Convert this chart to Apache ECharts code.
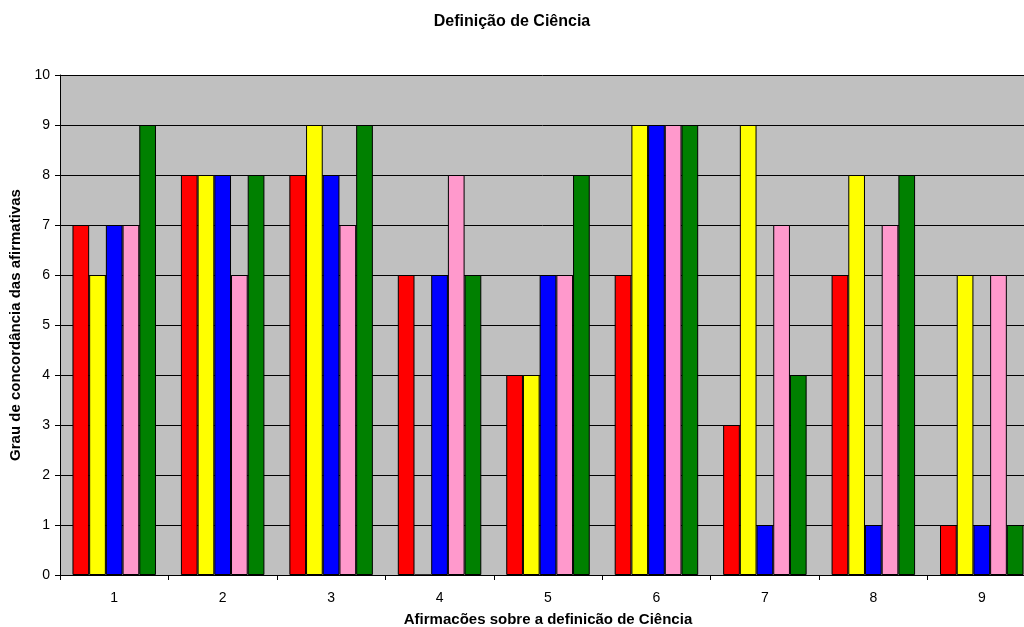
<!DOCTYPE html>
<html>
<head>
<meta charset="utf-8">
<script src="https://cdn.jsdelivr.net/npm/echarts@6/dist/echarts.min.js"></script>
<style>
  html, body { margin: 0; padding: 0; background: #ffffff; }
  #chart { width: 1024px; height: 627px; }
</style>
</head>
<body>
<div id="chart"></div>
<script>
// Statements about the definition of science (x axis)
const categories = ['1', '2', '3', '4', '5', '6', '7', '8', '9'];

// Agreement level given by each respondent group
const serieVermelha = [7, 8, 8, 6, 4, 6, 3, 6, 1];
const serieAmarela  = [6, 8, 9, 0, 4, 9, 9, 8, 6];
const serieAzul     = [7, 8, 8, 6, 6, 9, 1, 1, 1];
const serieRosa     = [7, 6, 7, 8, 6, 9, 7, 7, 6];
const serieVerde    = [9, 8, 9, 6, 8, 9, 4, 8, 1];

const seriesDefs = [
  { name: 'Série 1', data: serieVermelha, color: '#FF0000' },
  { name: 'Série 2', data: serieAmarela,  color: '#FFFF00' },
  { name: 'Série 3', data: serieAzul,     color: '#0000FF' },
  { name: 'Série 4', data: serieRosa,     color: '#FF99CC' },
  { name: 'Série 5', data: serieVerde,    color: '#008000' }
];

const font = 'Liberation Sans, Arial, sans-serif';
const chart = echarts.init(document.getElementById('chart'), null, { renderer: 'canvas' });

chart.setOption({
  animation: false,
  backgroundColor: '#ffffff',
  title: {
    text: 'Definição de Ciência',
    left: 'center',
    top: 9,
    textStyle: { fontFamily: font, fontSize: 16, fontWeight: 'bold', color: '#000' }
  },
  grid: {
    left: 60,
    top: 75,
    bottom: 52,
    right: -12,
    outerBoundsMode: 'none',
    containLabel: false,
    show: true,
    backgroundColor: '#C0C0C0',
    borderWidth: 0
  },
  xAxis: {
    type: 'category',
    data: categories,
    boundaryGap: true,
    name: 'Afirmacões sobre a definicão de Ciência',
    nameLocation: 'middle',
    nameGap: 37,
    nameTextStyle: { fontFamily: font, fontSize: 15, fontWeight: 'bold', color: '#000' },
    axisLine: { show: true, lineStyle: { color: '#000', width: 1 } },
    axisTick: { show: true, length: 5, lineStyle: { color: '#000' } },
    axisLabel: { fontFamily: font, fontSize: 14, color: '#000', margin: 16 },
    splitLine: { show: false }
  },
  yAxis: {
    type: 'value',
    min: 0,
    max: 10,
    interval: 1,
    name: 'Grau de concordância das afirmativas',
    nameLocation: 'middle',
    nameRotate: 90,
    nameGap: 36,
    nameTextStyle: { fontFamily: font, fontSize: 15, fontWeight: 'bold', color: '#000' },
    axisLine: { show: true, lineStyle: { color: '#000', width: 1 } },
    axisTick: { show: true, length: 5, inside: false, lineStyle: { color: '#000' } },
    axisLabel: { fontFamily: font, fontSize: 14, color: '#000', margin: 10 },
    splitLine: { show: true, lineStyle: { color: '#000', width: 1 } }
  },
  series: seriesDefs.map(s => ({
    name: s.name,
    type: 'bar',
    data: s.data,
    barGap: '0%',
    barCategoryGap: '23%',
    itemStyle: { color: s.color, borderColor: '#000', borderWidth: 1 }
  }))
});
</script>
</body>
</html>
